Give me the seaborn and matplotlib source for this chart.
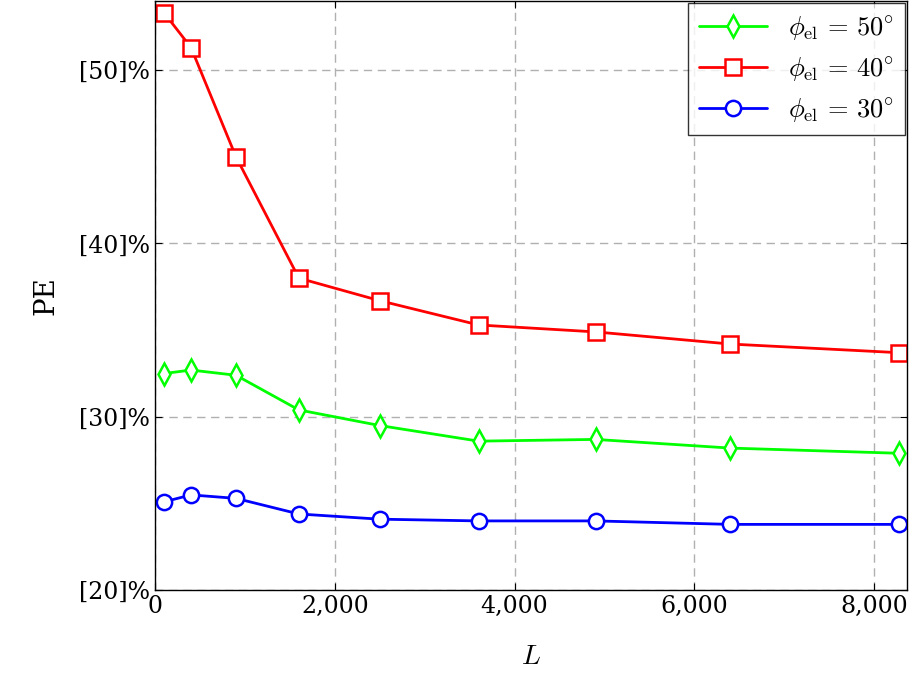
import matplotlib
matplotlib.use("Agg")
import matplotlib.pyplot as plt
import seaborn as sns
import pandas as pd

L = [100, 400, 900, 1600, 2500, 3600, 4900, 6400, 8281]
pe50 = [32.5, 32.7, 32.4, 30.4, 29.5, 28.6, 28.7, 28.2, 27.9]
pe40 = [53.3, 51.3, 45.0, 38.0, 36.7, 35.3, 34.9, 34.2, 33.7]
pe30 = [25.1, 25.5, 25.3, 24.4, 24.1, 24.0, 24.0, 23.8, 23.8]
yticks = [20, 30, 40, 50]
xticks = [0, 2000, 4000, 6000, 8000]

sns.set_style("white")
plt.rcParams['font.family'] = ['DejaVu Serif']
plt.rcParams['mathtext.fontset'] = 'cm'
plt.rcParams['text.color'] = 'black'
plt.rcParams['axes.labelcolor'] = 'black'
plt.rcParams['xtick.color'] = 'black'
plt.rcParams['ytick.color'] = 'black'

fig, ax = plt.subplots(figsize=(9.12, 6.92), dpi=100)
series = [(pe50, "lime", "d", r"$\phi_{\rm el}\, =\, 50^{\circ}$"),
          (pe40, "red", "s", r"$\phi_{\rm el}\, =\, 40^{\circ}$"),
          (pe30, "blue", "o", r"$\phi_{\rm el}\, =\, 30^{\circ}$")]
for vals, c, m, lab in series:
    df = pd.DataFrame({"L": L, "PE": vals})
    sns.lineplot(data=df, x="L", y="PE", ax=ax, color=c, marker=m, markersize=11,
                 markerfacecolor="white", markeredgecolor=c, markeredgewidth=1.8,
                 linewidth=2, label=lab)
ax.set_xlim(0, 8370)
ax.set_ylim(20, 54)
ax.set_xticks(xticks)
ax.set_xticklabels([f"{v:,}" for v in xticks], fontsize=17)
ax.set_yticks(yticks)
ax.set_yticklabels([f"[{v}]%" for v in yticks], fontsize=17)
ax.grid(True, linestyle=(0, (6, 4)), color="#b0b0b0", linewidth=1)
ax.set_xlabel(r"$L$", fontsize=20, labelpad=18)
ax.set_ylabel("PE", fontsize=20, labelpad=14)
for s in ax.spines.values():
    s.set_color("black"); s.set_linewidth(1)
ax.tick_params(direction="in", length=5, left=True, bottom=True, top=True, right=True)
leg = ax.legend(loc="upper right", fontsize=19, frameon=True, fancybox=False,
                edgecolor="black", borderaxespad=0.1, handlelength=2.6, labelspacing=0.5)
leg.get_frame().set_linewidth(1)
fig.subplots_adjust(left=0.17, right=0.995, top=0.999, bottom=0.147)
fig.savefig("out.png", dpi=100)
